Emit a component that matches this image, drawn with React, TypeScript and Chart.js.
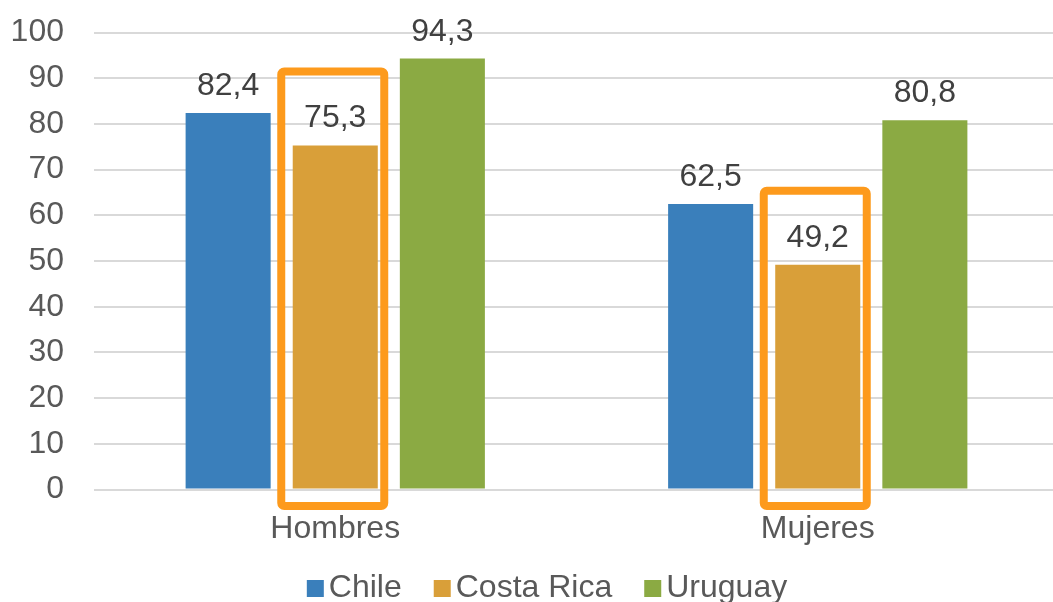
import React, { useEffect, useRef } from "react";
import { Chart, registerables } from "chart.js";

Chart.register(...registerables);

const categories = ["Hombres", "Mujeres"];
const seriesNames = ["Chile", "Costa Rica", "Uruguay"];
const chileValues = [82.4, 62.5];
const costaRicaValues = [75.3, 49.2];
const uruguayValues = [94.3, 80.8];
const yTickValues = [0, 10, 20, 30, 40, 50, 60, 70, 80, 90, 100];
const highlightedSeries = "Costa Rica";

const FONT = "'Liberation Sans', Arial, Helvetica, sans-serif";
const COLORS = ["#3A7FBB", "#D99F39", "#8BAA43"];
const BOX_COLOR = "#FD9A1C";

const fmt = (v: number) => v.toFixed(1).replace(".", ",");

const dataLabelPlugin = {
  id: "dataLabels",
  afterDatasetsDraw(chart: any) {
    const ctx = chart.ctx;
    ctx.save();
    ctx.font = `32px ${FONT}`;
    ctx.fillStyle = "#404040";
    ctx.textAlign = "center";
    ctx.textBaseline = "alphabetic";
    chart.data.datasets.forEach((ds: any, di: number) => {
      const meta = chart.getDatasetMeta(di);
      meta.data.forEach((bar: any, i: number) => {
        ctx.fillText(fmt(ds.data[i]), bar.x, bar.y - 18);
      });
    });
    ctx.restore();
  },
};

const highlightPlugin = {
  id: "highlightBoxes",
  afterDatasetsDraw(chart: any) {
    const ctx = chart.ctx;
    const di = chart.data.datasets.findIndex((d: any) => d.label === highlightedSeries);
    if (di < 0) return;
    const meta = chart.getDatasetMeta(di);
    ctx.save();
    ctx.strokeStyle = BOX_COLOR;
    ctx.lineWidth = 8;
    ctx.lineJoin = "round";
    meta.data.forEach((bar: any) => {
      const left = bar.x - 54;
      const right = bar.x + 49;
      const top = bar.y - 74;
      const bottom = chart.chartArea.bottom + 16.5;
      ctx.beginPath();
      if (ctx.roundRect) ctx.roundRect(left, top, right - left, bottom - top, 3);
      else ctx.rect(left, top, right - left, bottom - top);
      ctx.stroke();
    });
    ctx.restore();
  },
};

const legendPlugin = {
  id: "customLegend",
  afterDraw(chart: any) {
    const ctx = chart.ctx;
    ctx.save();
    ctx.font = `32px ${FONT}`;
    const box = 17;
    const textGap = 5;
    const itemGap = 32;
    const items = chart.data.datasets.map((d: any) => ({
      label: d.label,
      color: d.backgroundColor,
      w: box + textGap + ctx.measureText(d.label).width,
    }));
    const total = items.reduce((s: number, it: any) => s + it.w, 0) + itemGap * (items.length - 1);
    let x = 547 - total / 2;
    const baseline = 597;
    ctx.textBaseline = "alphabetic";
    ctx.textAlign = "left";
    items.forEach((it: any) => {
      ctx.fillStyle = it.color;
      ctx.fillRect(x, baseline - box, box, box);
      ctx.fillStyle = "#595959";
      ctx.fillText(it.label, x + box + textGap, baseline);
      x += it.w + itemGap;
    });
    ctx.restore();
  },
};

export default function App() {
  const ref = useRef<HTMLCanvasElement | null>(null);

  useEffect(() => {
    if (!ref.current) return;
    const seriesValues = [chileValues, costaRicaValues, uruguayValues];
    const chart = new Chart(ref.current, {
      type: "bar",
      data: {
        labels: categories,
        datasets: seriesNames.map((name, i) => ({
          label: name,
          data: seriesValues[i],
          backgroundColor: COLORS[i],
          borderWidth: 0,
          categoryPercentage: 0.666,
          barPercentage: 0.794,
        })),
      },
      options: {
        animation: false,
        responsive: false,
        devicePixelRatio: 1,
        layout: { padding: { top: 32.5, right: 0, bottom: 0, left: 0 } },
        plugins: {
          legend: { display: false },
          tooltip: { enabled: false },
        },
        scales: {
          x: {
            grid: { display: false, drawTicks: false },
            border: { display: false },
            ticks: {
              color: "#595959",
              font: { family: FONT, size: 32 },
              padding: 20,
            },
            afterFit(scale: any) {
              scale.height = 112.5;
            },
          },
          y: {
            min: 0,
            max: 100,
            afterBuildTicks(scale: any) {
              scale.ticks = yTickValues.map((v) => ({ value: v }));
            },
            grid: { color: "#D9D9D9", lineWidth: 2, drawTicks: false },
            border: { display: false },
            ticks: {
              color: "#595959",
              font: { family: FONT, size: 32 },
              padding: 30,
            },
            afterFit(scale: any) {
              scale.width = 94;
              scale.paddingTop = 0;
              scale.paddingBottom = 0;
            },
          },
        },
      },
      plugins: [dataLabelPlugin, highlightPlugin, legendPlugin],
    });
    return () => chart.destroy();
  }, []);

  return (
    <div
      style={{
        position: "fixed",
        left: 0,
        top: 0,
        width: 1053,
        height: 602,
        overflow: "hidden",
        background: "#FFFFFF",
      }}
    >
      <canvas ref={ref} width={1059} height={602} style={{ width: 1059, height: 602, display: "block" }} />
    </div>
  );
}
